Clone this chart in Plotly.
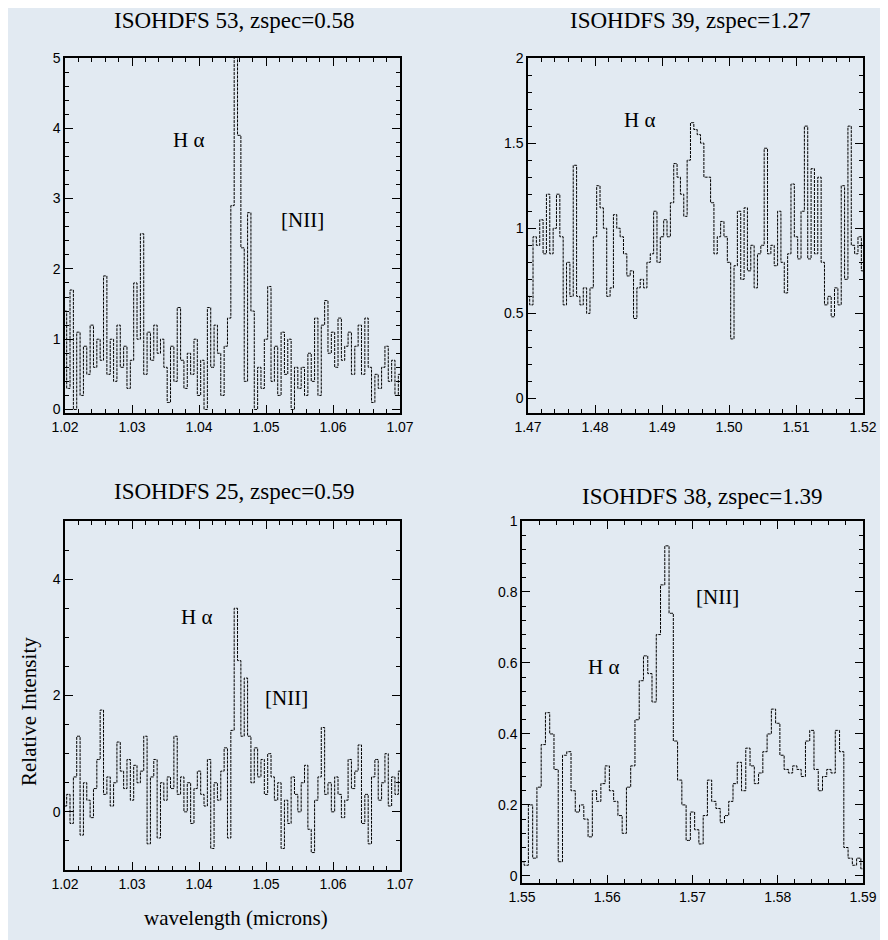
import plotly.graph_objects as go

# ---------------- data ----------------
titles = ["ISOHDFS 53, zspec=0.58", "ISOHDFS 39, zspec=1.27",
          "ISOHDFS 25, zspec=0.59", "ISOHDFS 38, zspec=1.39"]

# wavelength grids (start, step in microns)
wl_start = [1.02, 1.47, 1.02, 1.55]
wl_step = [0.0005, 0.0005, 0.0005, 0.0005]

flux1 = [1.4, 0.3, 1.7, 0.0, 1.1, 0.2, 0.9, 0.5, 1.2, 0.6,
         1.0, 0.7, 1.9, 0.5, 1.0, 0.4, 1.2, 0.6, 0.9, 0.3,
         0.7, 1.8, 1.0, 2.5, 0.5, 1.1, 0.7, 1.2, 0.8, 1.0,
         0.6, 0.1, 0.9, 0.4, 1.45, 0.7, 0.3, 0.8, 0.5, 1.0,
         0.2, 0.7, 0.0, 1.45, 0.6, 1.2, 0.8, 0.2, 0.9, 1.3,
         2.9, 5.3, 3.9, 2.3, 0.4, 2.8, 1.4, 0.0, 0.6, 0.3,
         1.0, 1.75, 0.4, 0.9, 0.2, 1.1, 0.5, 1.0, 0.0, 0.6,
         0.3, 0.6, 0.2, 0.8, 0.4, 1.3, 0.2, 1.2, 1.55, 0.8,
         1.1, 0.6, 1.3, 0.7, 0.9, 1.1, 0.5, 0.9, 1.2, 0.5,
         1.3, 0.6, 0.1, 0.5, 0.3, 0.6, 0.9, 0.4, 0.7, 0.2, 0.5]

flux2 = [0.6, 0.55, 0.95, 0.9, 1.05, 0.85, 1.2, 0.85, 1.0, 1.2,
         0.95, 0.55, 0.8, 0.6, 1.37, 0.6, 0.55, 0.65, 0.5, 0.65,
         0.95, 1.25, 1.12, 1.0, 0.6, 0.65, 1.08, 1.0, 0.95, 0.85,
         0.72, 0.75, 0.47, 0.65, 0.7, 0.65, 0.8, 0.85, 1.1, 0.8,
         0.95, 1.05, 0.95, 1.15, 1.38, 1.3, 1.2, 1.07, 1.4, 1.62,
         1.58, 1.55, 1.5, 1.3, 1.3, 1.15, 0.85, 0.95, 1.04, 0.95,
         0.8, 0.35, 0.78, 1.1, 0.7, 1.12, 0.75, 0.9, 0.65, 0.85,
         0.9, 1.47, 0.85, 0.9, 0.78, 1.1, 0.8, 0.62, 0.85, 1.26,
         0.95, 0.82, 1.1, 1.6, 0.82, 1.35, 0.85, 1.3, 0.8, 0.55,
         0.6, 0.48, 0.65, 0.55, 1.25, 0.7, 1.6, 0.9, 0.85, 0.95, 0.75]

flux3 = [0.1, 0.3, -0.2, 0.6, 1.3, -0.4, 0.5, 0.2, -0.1, 0.4,
         0.9, 1.75, 0.3, 0.6, 0.1, 0.5, 1.2, 0.7, 0.4, 0.9,
         0.2, 0.8, 0.5, 0.7, 1.3, -0.55, 0.6, 0.9, -0.45, 0.5,
         0.2, 0.6, 0.4, 1.3, 0.3, 0.6, 0.0, 0.5, -0.2, 0.4,
         0.7, 0.3, 0.1, 0.9, -0.63, 0.5, 0.2, 0.7, 1.1, -0.45,
         1.4, 3.5, 2.6, 1.3, 2.3, 1.3, 0.5, 1.1, 0.6, 0.9,
         0.3, 1.0, 0.6, 0.2, 0.5, -0.63, 0.2, -0.2, 0.6, 0.3,
         0.0, 0.5, 0.8, -0.3, -0.7, 0.2, 0.6, 1.45, 0.3, 0.5,
         0.0, 0.6, 0.3, -0.1, 0.2, 0.9, 0.4, 0.7, 1.15, -0.2,
         0.3, -0.55, 0.6, 0.9, 0.2, 0.5, 1.0, 0.1, 0.6, 0.3, 0.7]

flux4 = [0.04, 0.03, 0.2, 0.05, 0.25, 0.37, 0.46, 0.4, 0.3, 0.04,
         0.34, 0.35, 0.24, 0.18, 0.2, 0.16, 0.11, 0.24, 0.21, 0.26,
         0.31, 0.24, 0.21, 0.17, 0.12, 0.25, 0.31, 0.44, 0.55, 0.62,
         0.57, 0.49, 0.68, 0.82, 0.93, 0.74, 0.38, 0.27, 0.2, 0.1,
         0.18, 0.13, 0.09, 0.17, 0.27, 0.21, 0.19, 0.15, 0.17, 0.21,
         0.26, 0.32, 0.24, 0.36, 0.31, 0.26, 0.29, 0.35, 0.4, 0.47,
         0.43, 0.34, 0.3, 0.29, 0.31, 0.3, 0.28, 0.38, 0.41, 0.3,
         0.24, 0.28, 0.3, 0.29, 0.41, 0.35, 0.08, 0.05, 0.03, 0.05, 0.02]

fluxes = [flux1, flux2, flux3, flux4]

xtickvals = [[1.02, 1.03, 1.04, 1.05, 1.06, 1.07],
             [1.47, 1.48, 1.49, 1.50, 1.51, 1.52],
             [1.02, 1.03, 1.04, 1.05, 1.06, 1.07],
             [1.55, 1.56, 1.57, 1.58, 1.59]]
xticktext = [["1.02", "1.03", "1.04", "1.05", "1.06", "1.07"],
             ["1.47", "1.48", "1.49", "1.50", "1.51", "1.52"],
             ["1.02", "1.03", "1.04", "1.05", "1.06", "1.07"],
             ["1.55", "1.56", "1.57", "1.58", "1.59"]]
ytickvals = [[0, 1, 2, 3, 4, 5],
             [0, 0.5, 1, 1.5, 2],
             [0, 2, 4],
             [0, 0.2, 0.4, 0.6, 0.8, 1]]
yticktext = [["0", "1", "2", "3", "4", "5"],
             ["0", "0.5", "1", "1.5", "2"],
             ["0", "2", "4"],
             ["0", "0.2", "0.4", "0.6", "0.8", "1"]]

# line labels: (text, wavelength, intensity)
line_labels = [
    [("H α", 1.0384, 3.83), ("[NII]", 1.0554, 2.70)],
    [("H α", 1.4867, 1.636)],
    [("H α", 1.0397, 3.35), ("[NII]", 1.0531, 1.957)],
    [("H α", 1.5596, 0.589), ("[NII]", 1.5729, 0.786)],
]

# ---------------- layout / style ----------------
OFF = 8                 # page body margin in the browser
W, H = 888 - OFF, 940 - OFF
BG = "#e2eaf2"
xranges = [[1.02, 1.07], [1.47, 1.52], [1.02, 1.07], [1.55, 1.59]]
yranges = [[-0.05, 5.0], [-0.085, 2.0], [-1.0, 5.0], [-0.02, 1.0]]
yminor = [0.2, 0.1, 0.5, 0.04]
# pixel boxes in screenshot coordinates (left, right, top, bottom)
boxes = [(65, 400, 58, 413), (528, 863, 58, 413),
         (65, 400, 521, 870), (522, 863, 521, 883)]
title_pos = [(234, 20), (690, 20), (234, 492), (702, 496)]


def px(x):
    return (x - OFF) / W


def py(y):
    return 1 - (y - OFF) / H


fig = go.Figure()
layout = dict(
    template="none",
    width=W, height=H, margin=dict(l=0, r=0, t=0, b=0, pad=0, autoexpand=False),
    paper_bgcolor=BG, plot_bgcolor="rgba(0,0,0,0)",
    showlegend=False, annotations=[],
    font=dict(family="Liberation Serif", color="black"),
)

for k in range(4):
    n = k + 1
    xs = [round(wl_start[k] + wl_step[k] * i, 6) for i in range(len(fluxes[k]))]
    fig.add_trace(go.Scatter(
        x=xs, y=fluxes[k], mode="lines", line_shape="hvh",
        line=dict(color="black", width=1, dash="3px,1px"),
        xaxis=f"x{n}", yaxis=f"y{n}", hoverinfo="skip"))
    l, r, t, b = boxes[k]
    ax_common = dict(showgrid=False, zeroline=False, showline=True, mirror="ticks",
                     automargin=False,
                     linecolor="black", linewidth=1.5, ticks="inside", ticklen=8,
                     tickwidth=1.2, tickcolor="black",
                     tickfont=dict(family="Liberation Sans", size=14, color="black"))
    layout[f"xaxis{n}"] = dict(
        ax_common, domain=[px(l), px(r)], range=xranges[k], anchor=f"y{n}",
        tickmode="array", tickvals=xtickvals[k], ticktext=xticktext[k],
        minor=dict(ticks="inside", ticklen=4, dtick=0.002, tickcolor="black"))
    layout[f"yaxis{n}"] = dict(
        ax_common, domain=[py(b), py(t)], range=yranges[k], anchor=f"x{n}",
        tickmode="array", tickvals=ytickvals[k], ticktext=yticktext[k],
        minor=dict(ticks="inside", ticklen=4, dtick=yminor[k], tickcolor="black"))
    tx, ty = title_pos[k]
    layout["annotations"].append(dict(
        text=titles[k], x=px(tx), y=py(ty), xref="paper", yref="paper",
        showarrow=False, xanchor="center", yanchor="middle",
        font=dict(family="Liberation Serif", size=23, color="black")))
    for txt, lx, ly in line_labels[k]:
        layout["annotations"].append(dict(
            text=txt, x=lx, y=ly, xref=f"x{n}", yref=f"y{n}", showarrow=False,
            xanchor="center", yanchor="middle",
            font=dict(family="Liberation Serif", size=21, color="black")))

layout["annotations"].append(dict(
    text="Relative Intensity", x=px(29), y=py(712), xref="paper", yref="paper",
    showarrow=False, textangle=-90, xanchor="center", yanchor="middle",
    font=dict(family="Liberation Serif", size=21, color="black")))
layout["annotations"].append(dict(
    text="wavelength (microns)", x=px(236), y=py(918), xref="paper", yref="paper",
    showarrow=False, xanchor="center", yanchor="middle",
    font=dict(family="Liberation Serif", size=21, color="black")))

fig.update_layout(**layout)
fig.write_html("out.html")
